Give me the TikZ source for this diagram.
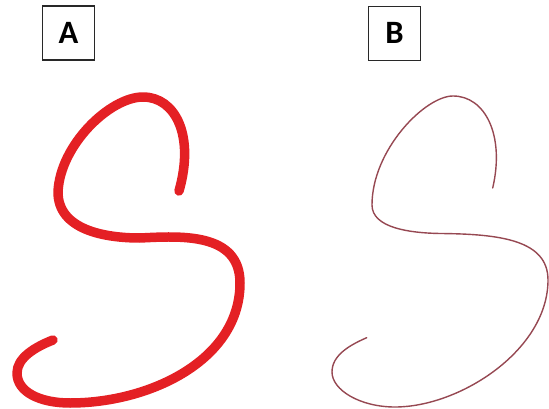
\documentclass[tikz,border=0pt]{standalone}
\usepackage{fontspec}
\setmainfont{Carlito}
\usepackage{xcolor}
\usepackage{tikz}
\usetikzlibrary{positioning}
\definecolor{inkred}{RGB}{228,32,36}
\definecolor{fineline}{RGB}{150,72,82}
\definecolor{boxline}{RGB}{40,40,40}

\begin{document}
\begin{tikzpicture}[x=1pt, y=-1pt,
  lbl/.style={draw=boxline, line width=1.2pt, minimum width=52pt, minimum height=54pt,
    inner sep=0pt, font=\fontsize{32.6}{36}\selectfont\bfseries},
  thickS/.style={inkred, line width=9.5pt, line cap=round, line join=round},
  thinS/.style={fineline, line width=1.4pt, line cap=round, line join=round}]
  \useasboundingbox (0,0) rectangle (549,409);
  \node[lbl] (boxA) at (68.5,33) {A};
  \node[lbl] (boxB) at (394.5,33.3) {B};
  \draw[thickS] (179,191) .. controls (195,135) and (175,97) .. (143,97)
    .. controls (110,97) and (60,145) .. (58,192)
    .. controls (58,230) and (105,238) .. (140,238)
    .. controls (180,236) and (240,232) .. (240,283)
    .. controls (240,360) and (150,403) .. (70,403)
    .. controls (40,403) and (17,392) .. (17,373)
    .. controls (17,358) and (35,347) .. (53,340);
  \draw[thinS] (492.7,188) .. controls (505,135) and (485,96) .. (453,96)
    .. controls (425,96) and (372,150) .. (372,205)
    .. controls (372,228) and (410,233) .. (440,233.5)
    .. controls (500,234) and (548,240) .. (548,280)
    .. controls (548,350) and (460,407) .. (395,407)
    .. controls (360,407) and (332,390) .. (332,372)
    .. controls (332,355) and (350,345) .. (366.7,337.7);
\end{tikzpicture}
\end{document}
